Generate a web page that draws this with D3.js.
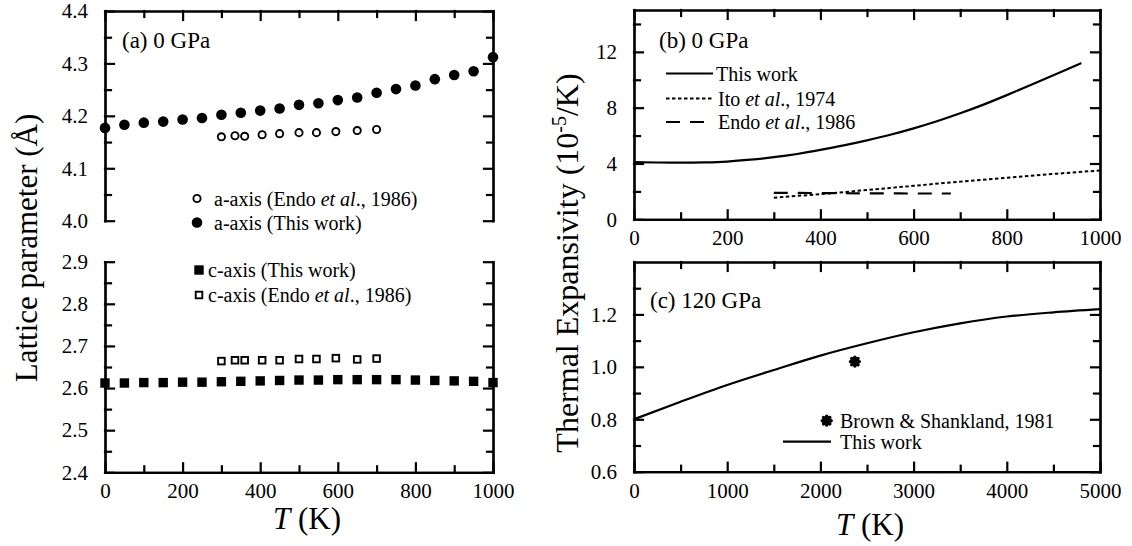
<!DOCTYPE html>
<html>
<head>
<meta charset="utf-8">
<script src="https://cdn.jsdelivr.net/npm/d3@7"></script>
<style>
  body { margin: 0; background: #fff; }
  svg { font-family: "Liberation Serif", "Times New Roman", serif; }
  .axis path, .axis line { stroke: #000; stroke-width: 2.2; stroke-linecap: square; }
  .axis text { font-size: 21px; fill: #000; font-family: "Liberation Serif", serif; }
  .lbl { font-size: 20px; fill: #000; }
  .ttl { font-size: 23px; fill: #000; }
  .axt { font-size: 31px; fill: #000; }
</style>
</head>
<body>
<svg width="1132" height="546"></svg>
<script>
// (a) lattice parameters, 0 GPa
const tempA = [0, 50, 100, 150, 200, 250, 300, 350, 400, 450, 500, 550, 600, 650, 700, 750, 800, 850, 900, 950, 1000]
const aThisWork = [4.177, 4.183, 4.187, 4.189, 4.193, 4.196, 4.202, 4.206, 4.210, 4.214, 4.221, 4.224, 4.230, 4.235, 4.244, 4.251, 4.258, 4.270, 4.278, 4.285, 4.312]
const cThisWork = [2.612, 2.612, 2.613, 2.613, 2.614, 2.614, 2.615, 2.616, 2.617, 2.618, 2.619, 2.619, 2.620, 2.620, 2.620, 2.620, 2.619, 2.618, 2.617, 2.616, 2.613]
const tempEndo = [300, 335, 360, 405, 450, 500, 545, 595, 650, 700]
const aEndo = [4.160, 4.162, 4.161, 4.164, 4.166, 4.168, 4.168, 4.170, 4.172, 4.174]
const cEndo = [2.664, 2.666, 2.666, 2.666, 2.666, 2.669, 2.669, 2.671, 2.668, 2.670]

// (b) thermal expansivity, 0 GPa
const tempB = [0, 50, 100, 150, 200, 250, 300, 350, 400, 450, 500, 550, 600, 650, 700, 750, 800, 850, 900, 960]
const alphaB = [4.10, 4.07, 4.06, 4.08, 4.14, 4.27, 4.45, 4.68, 4.97, 5.30, 5.66, 6.06, 6.52, 7.03, 7.60, 8.22, 8.90, 9.61, 10.33, 11.20]
const tempIto = [300, 350, 400, 500, 600, 700, 800, 900, 1000]
const alphaIto = [1.55, 1.68, 1.80, 2.10, 2.40, 2.70, 2.98, 3.25, 3.50]
const tempEndoB = [300, 400, 500, 600, 680]
const alphaEndoB = [1.90, 1.88, 1.86, 1.85, 1.85]

// (c) thermal expansivity, 120 GPa
const tempC = [0, 500, 1000, 1500, 2000, 2500, 3000, 3500, 4000, 4500, 5000]
const alphaC = [0.800, 0.867, 0.931, 0.988, 1.043, 1.090, 1.132, 1.166, 1.192, 1.208, 1.220]
const brownT = [2370]
const brownAlpha = [1.02]

// ticks
const tTicks = [0, 200, 400, 600, 800, 1000]
const tMinor = [100, 300, 500, 700, 900]
const aTicks = [4.0, 4.1, 4.2, 4.3, 4.4]
const aMinor = [4.05, 4.15, 4.25, 4.35]
const cTicks = [2.4, 2.5, 2.6, 2.7, 2.8, 2.9]
const cMinor = [2.45, 2.55, 2.65, 2.75, 2.85]
const bTicks = [0, 4, 8, 12]
const bMinor = [2, 6, 10, 14]
const tcTicks = [0, 1000, 2000, 3000, 4000, 5000]
const tcMinor = [500, 1500, 2500, 3500, 4500]
const ycTicks = [0.6, 0.8, 1.0, 1.2]
const ycMinor = [0.7, 0.9, 1.1, 1.3]

const svg = d3.select('svg')

const xA = d3.scaleLinear().domain([0, 1000]).range([105, 493])
const yAtop = d3.scaleLinear().domain([4.0, 4.4]).range([220.7, 11])
const yAbot = d3.scaleLinear().domain([2.4, 2.9]).range([472.3, 261.7])
const xB = d3.scaleLinear().domain([0, 1000]).range([634, 1100])
const yB = d3.scaleLinear().domain([0, 15]).range([219.3, 10])
const xC = d3.scaleLinear().domain([0, 5000]).range([634, 1100])
const yC = d3.scaleLinear().domain([0.6, 1.4]).range([471.7, 262])

const none = () => ''

// one side of a frame: major ticks (optionally labelled) + minor ticks, all pointing inward
const side = (axisFn, scale, pos, major, minor, fmt, horizontal) => {
  const tr = horizontal ? `translate(0,${pos})` : `translate(${pos},0)`
  const pad = horizontal ? 11 : 17
  svg.append('g').attr('class', 'axis').attr('transform', tr)
    .call(axisFn(scale).tickValues(major).tickSize(-9).tickSizeOuter(0).tickPadding(pad).tickFormat(fmt || none))
  svg.append('g').attr('class', 'axis').attr('transform', tr)
    .call(axisFn(scale).tickValues(minor).tickSize(-6).tickSizeOuter(0).tickFormat(none))
}

const f1 = d3.format('.1f')

// panel (a) top
side(d3.axisLeft, yAtop, 105, aTicks, aMinor, f1)
side(d3.axisRight, yAtop, 493, aTicks, aMinor)
side(d3.axisTop, xA, 11, tTicks, tMinor, null, true)
// panel (a) bottom
side(d3.axisLeft, yAbot, 105, cTicks, cMinor, f1)
side(d3.axisRight, yAbot, 493, cTicks, cMinor)
side(d3.axisBottom, xA, 472.3, tTicks, tMinor, d3.format('d'), true)

// panel (b)
side(d3.axisLeft, yB, 634, bTicks, bMinor, d3.format('d'))
side(d3.axisRight, yB, 1100, bTicks, bMinor)
side(d3.axisTop, xB, 10, tTicks, tMinor, null, true)
side(d3.axisBottom, xB, 219.3, tTicks, tMinor, d3.format('d'), true)

// panel (c)
side(d3.axisLeft, yC, 634, ycTicks, ycMinor, f1)
side(d3.axisRight, yC, 1100, ycTicks, ycMinor)
side(d3.axisTop, xC, 262, tcTicks, tcMinor, null, true)
side(d3.axisBottom, xC, 471.7, tcTicks, tcMinor, d3.format('d'), true)

// --- panel (a) marks
svg.append('g').selectAll('circle').data(tempA).enter().append('circle')
  .attr('cx', d => xA(d)).attr('cy', (d, i) => yAtop(aThisWork[i])).attr('r', 5.3).attr('fill', '#000')
svg.append('g').selectAll('circle').data(tempEndo).enter().append('circle')
  .attr('cx', d => xA(d)).attr('cy', (d, i) => yAtop(aEndo[i])).attr('r', 3.6)
  .attr('fill', '#fff').attr('stroke', '#000').attr('stroke-width', 1.9)
svg.append('g').selectAll('rect').data(tempA).enter().append('rect')
  .attr('x', d => xA(d) - 4.7).attr('y', (d, i) => yAbot(cThisWork[i]) - 4.7)
  .attr('width', 9.4).attr('height', 9.4).attr('fill', '#000')
svg.append('g').selectAll('rect').data(tempEndo).enter().append('rect')
  .attr('x', d => xA(d) - 3.3).attr('y', (d, i) => yAbot(cEndo[i]) - 3.3)
  .attr('width', 6.6).attr('height', 6.6).attr('fill', '#fff').attr('stroke', '#000').attr('stroke-width', 1.9)

// --- panel (b) lines
const lineB = (ts, vs) => d3.line().x(d => xB(d)).y((d, i) => yB(vs[i])).curve(d3.curveMonotoneX)(ts)
svg.append('path').attr('d', lineB(tempB, alphaB)).attr('fill', 'none').attr('stroke', '#000').attr('stroke-width', 2.2)
svg.append('path').attr('d', lineB(tempIto, alphaIto)).attr('fill', 'none').attr('stroke', '#000')
  .attr('stroke-width', 2).attr('stroke-dasharray', '3.5,2.5')
svg.append('path').attr('d', lineB(tempEndoB, alphaEndoB)).attr('fill', 'none').attr('stroke', '#000')
  .attr('stroke-width', 2.2).attr('stroke-dasharray', '14,10')

// --- panel (c)
const lineC = d3.line().x(d => xC(d)).y((d, i) => yC(alphaC[i])).curve(d3.curveMonotoneX)
svg.append('path').attr('d', lineC(tempC)).attr('fill', 'none').attr('stroke', '#000').attr('stroke-width', 2.2)

const flower = {
  draw(ctx, size) {
    const r = Math.sqrt(size) / 2
    for (let k = 0; k < 4; k++) {
      const a = k * Math.PI / 4
      ctx.moveTo(-r * Math.cos(a), -r * Math.sin(a))
      ctx.lineTo(r * Math.cos(a), r * Math.sin(a))
    }
  }
}
const star = d3.symbol().type(flower).size(80)
svg.append('g').selectAll('path').data(brownT).enter().append('path')
  .attr('d', star).attr('transform', (d, i) => `translate(${xC(d)},${yC(brownAlpha[i])})`)
  .attr('stroke', '#000').attr('stroke-width', 3.4).attr('stroke-linecap', 'round').attr('fill', 'none')

// --- text
const text = (x, y, cls, parts, anchor) => {
  const t = svg.append('text').attr('x', x).attr('y', y).attr('class', cls).attr('text-anchor', anchor || 'start')
  parts.forEach(p => {
    const s = t.append('tspan').text(p[0])
    if (p[1]) s.attr('font-style', 'italic')
  })
  return t
}

text(122, 48, 'ttl', [['(a) 0 GPa']])
text(659, 48, 'ttl', [['(b) 0 GPa']])
text(650, 308, 'ttl', [['(c) 120 GPa']])

// legend (a)
svg.append('circle').attr('cx', 197).attr('cy', 198.5).attr('r', 3.6).attr('fill', '#fff').attr('stroke', '#000').attr('stroke-width', 1.9)
text(214, 205.5, 'lbl', [['a-axis (Endo '], ['et al', 1], ['., 1986)']])
svg.append('circle').attr('cx', 197).attr('cy', 222.5).attr('r', 5.3).attr('fill', '#000')
text(214, 229.5, 'lbl', [['a-axis (This work)']])
svg.append('rect').attr('x', 199 - 4.7).attr('y', 270 - 4.7).attr('width', 9.4).attr('height', 9.4).attr('fill', '#000')
text(208, 277, 'lbl', [['c-axis (This work)']])
svg.append('rect').attr('x', 199 - 3.3).attr('y', 295 - 3.3).attr('width', 6.6).attr('height', 6.6).attr('fill', '#fff').attr('stroke', '#000').attr('stroke-width', 1.9)
text(208, 302, 'lbl', [['c-axis (Endo '], ['et al', 1], ['., 1986)']])

// legend (b)
const legB = [[73.5, null, 2.2], [98.5, '3.5,2.5', 2], [122, '14,10', 2.2]]
legB.forEach(l => {
  svg.append('line').attr('x1', 666).attr('x2', 713).attr('y1', l[0]).attr('y2', l[0])
    .attr('stroke', '#000').attr('stroke-width', l[2]).attr('stroke-dasharray', l[1])
})
text(716, 80.5, 'lbl', [['This work']])
text(718, 105.5, 'lbl', [['Ito '], ['et al', 1], ['., 1974']])
text(718, 129, 'lbl', [['Endo '], ['et al', 1], ['., 1986']])

// legend (c)
svg.append('path').attr('d', star).attr('transform', 'translate(826.7,420.7)')
  .attr('stroke', '#000').attr('stroke-width', 3.4).attr('stroke-linecap', 'round').attr('fill', 'none')
text(840, 427.5, 'lbl', [['Brown & Shankland, 1981']])
svg.append('line').attr('x1', 783).attr('x2', 831).attr('y1', 441.7).attr('y2', 441.7).attr('stroke', '#000').attr('stroke-width', 2.2)
text(840, 448.7, 'lbl', [['This work']])

// axis titles
text(307, 529, 'axt', [['T', 1], [' (K)']], 'middle')
text(870, 535, 'axt', [['T', 1], [' (K)']], 'middle')
svg.append('text').attr('class', 'axt').attr('text-anchor', 'middle')
  .attr('transform', 'translate(37,248) rotate(-90)').text('Lattice parameter (Å)')
const th = svg.append('text').attr('class', 'axt').attr('text-anchor', 'middle').style('font-size', '32px')
  .attr('transform', 'translate(578,263) rotate(-90)')
th.append('tspan').text('Thermal Expansivity (10')
th.append('tspan').attr('dy', -12).attr('font-size', 20).text('-5')
th.append('tspan').attr('dy', 12).text('/K)')
</script>
</body>
</html>
